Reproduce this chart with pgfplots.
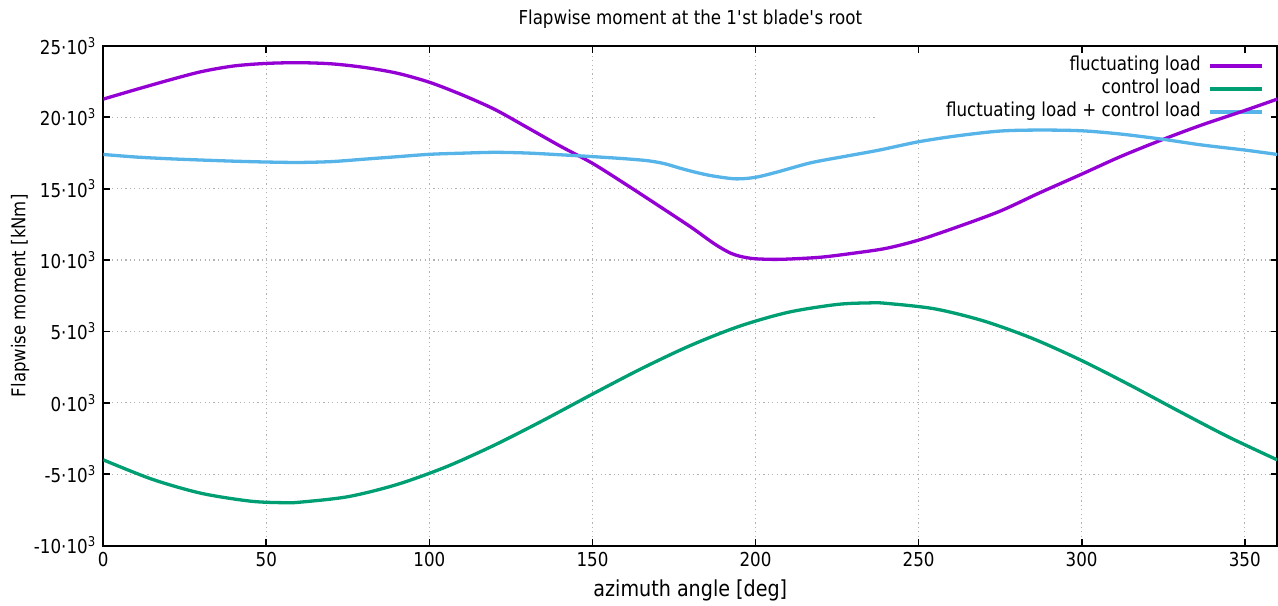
\documentclass[border=0pt]{standalone}
\usepackage{fontspec}
\setmainfont{DejaVu Sans}[FakeStretch=0.87]
\usepackage{pgfplots}
\pgfplotsset{compat=1.18}

\definecolor{fluct}{HTML}{9400D3}
\definecolor{ctrl}{HTML}{009E73}
\definecolor{sumc}{HTML}{56B4E9}
\newcommand{\basefont}{\fontsize{9.6}{11.5}\selectfont}
\newcommand{\kilo}{·10\textsuperscript{3}}

% the key sits above the grid but below ticks and curves
\pgfplotsset{
  layers/keyunder/.define layer set={axis background,axis grid,key,axis ticks,axis lines,axis tick labels,pre main,main,axis descriptions,axis foreground}{
    grid style={/pgfplots/on layer=axis grid},
    tick style={/pgfplots/on layer=axis ticks},
    axis line style={/pgfplots/on layer=axis lines},
    label style={/pgfplots/on layer=axis descriptions},
    legend style={/pgfplots/on layer=key},
    title style={/pgfplots/on layer=axis descriptions},
    ticklabel style={/pgfplots/on layer=axis tick labels},
  },
}

\begin{document}
\begin{tikzpicture}
\begin{axis}[
  set layers=keyunder,
  at={(0,0)}, anchor=south west,
  width=587pt, height=249.75pt, scale only axis,
  xmin=0, xmax=360, ymin=-10000, ymax=25000,
  xtick={0,50,...,350},
  ytick={-10000,-5000,...,25000},
  yticklabels={-10\kilo,-5\kilo,0\kilo,5\kilo,10\kilo,15\kilo,20\kilo,25\kilo},
  scaled ticks=false,
  /pgf/number format/assume math mode=true,
  ticklabel style={font=\basefont},
  tick align=inside,
  major tick length=3.3pt,
  tick style={line width=0.9pt, black},
  axis line style={line width=1pt, black},
  grid=major,
  grid style={gray!60, line width=0.6pt, dash pattern=on 0.6pt off 1.6pt},
  title={Flapwise moment at the 1\textquotesingle st blade\textquotesingle s root},
  title style={font=\basefont, at={(axis description cs:0.5,1.044)}, anchor=base, yshift=-6pt},
  xlabel={azimuth angle [deg]},
  xlabel style={font=\fontsize{11}{13}\selectfont, at={(axis description cs:0.5,-0.1025)}, anchor=base},
  ylabel={Flapwise moment [kNm]},
  ylabel style={font=\fontsize{9.5}{11.4}\selectfont, at={(axis description cs:-0.0709,0.5)}, anchor=center},
  legend style={at={(axis description cs:1,1)}, anchor=north east,
    draw=none, fill=white, inner xsep=6.85pt, inner ysep=4pt,
    row sep=0pt, column sep=4pt, font=\basefont,
    nodes={inner xsep=0pt, inner ysep=1.25pt, text height=7pt, text depth=2pt}},
  legend cell align=right,
  legend plot pos=right,
  legend image code/.code={\draw[#1] (0pt,0pt) -- (25.65pt,0pt);},
  every axis plot/.append style={line width=1.65pt},
]
% fluctuating part of the flapwise root moment
\addplot[fluct, smooth] coordinates {
  (0,21280) (10,21950) (20,22600) (30,23200) (40,23600) (50,23780)
  (60,23830) (70,23750) (80,23500) (90,23100) (100,22460) (110,21580)
  (120,20560) (130,19290) (140,18000) (150,16780) (160,15340) (170,13850)
  (180,12340) (185,11520) (187.5,11120) (190,10770) (192.5,10470)
  (195,10280) (197.5,10160) (200,10090) (205,10050) (210,10070)
  (220,10200) (230,10480) (240,10820) (250,11400) (262,12330)
  (275,13430) (287,14700) (300,16020) (312,17260) (325,18460)
  (337,19480) (350,20480) (360,21280)
};
\addlegendentry{fluctuating load}
% pitch control contribution
\addplot[ctrl, smooth] coordinates {
  (0,-4000) (15,-5360) (30,-6340) (45,-6890) (55,-7000) (60,-6970)
  (75,-6580) (90,-5730) (105,-4500) (120,-2960) (135,-1220) (150,610)
  (165,2390) (180,4010) (195,5360) (210,6340) (225,6890) (235,7000)
  (240,6970) (255,6580) (270,5730) (285,4500) (300,2960) (315,1220)
  (330,-610) (345,-2390) (360,-4000)
};
\addlegendentry{control load}
% resulting moment
\addplot[sumc, smooth] coordinates {
  (0,17400) (10,17220) (20,17100) (30,17010) (40,16930) (50,16870)
  (60,16840) (70,16900) (80,17070) (90,17240) (100,17410) (110,17490)
  (120,17550) (130,17500) (140,17380) (150,17250) (160,17100) (167,16960)
  (172,16760) (177,16430) (182,16130) (187,15890) (194,15690) (200,15800)
  (207,16190) (217,16820) (228,17290) (238,17710) (250,18290) (262,18710)
  (275,19040) (287,19110) (300,19060) (312,18830) (325,18460) (337,18060)
  (350,17710) (360,17400)
};
\addlegendentry{\hspace*{28.15pt}fluctuating load + control load}
\end{axis}
\pgfresetboundingbox
\path[use as bounding box] (-51.65pt,-29.75pt) rectangle (587.35pt,272.75pt);
\end{tikzpicture}
\end{document}
